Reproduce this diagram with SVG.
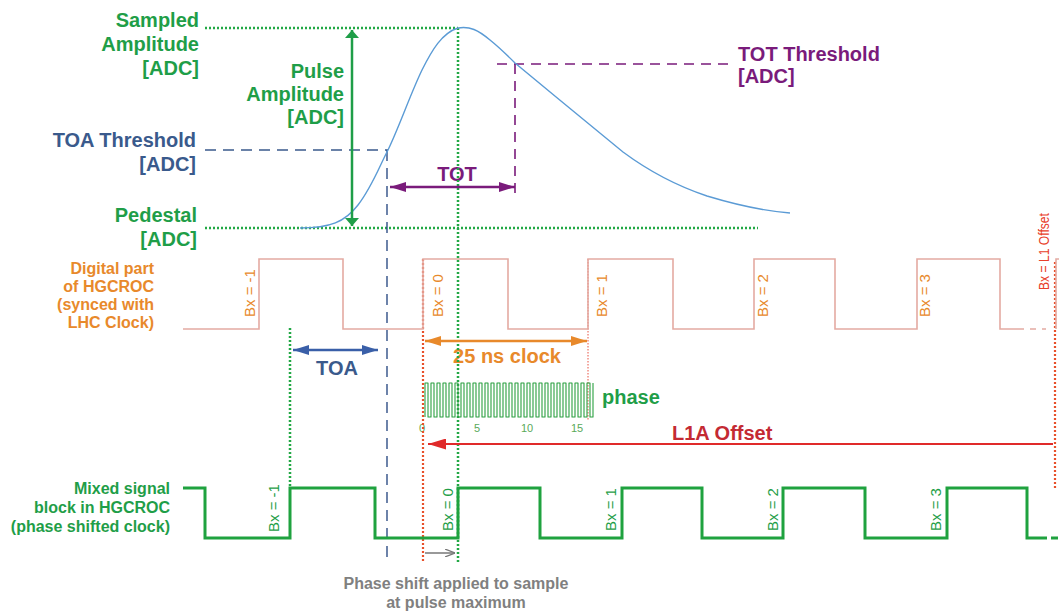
<svg xmlns="http://www.w3.org/2000/svg" width="1059" height="616" viewBox="0 0 1059 616">
<style>
text{font-family:"Liberation Sans",Arial,sans-serif;}
.b{font-weight:bold;}
.g{fill:#1f9e48;}
.bl{fill:#3a5a8c;}
.pu{fill:#7a1b7b;}
.or{fill:#e8892b;}
.rd{fill:#c42a33;}
.gy{fill:#808080;}
.lbl{font-size:20px;font-weight:bold;}
.sm{font-size:16px;font-weight:bold;}
.bx{font-size:15px;}
.dotg{stroke:#22a845;stroke-width:2.5;stroke-dasharray:2 2;fill:none;}
.dotr{stroke:#e8502a;stroke-width:2.2;stroke-dasharray:2 2;fill:none;}
</style>
<defs>
<marker id="ag" viewBox="0 0 10 10" refX="10" refY="5" markerWidth="8" markerHeight="14" markerUnits="userSpaceOnUse" orient="auto-start-reverse" preserveAspectRatio="none"><path d="M0,0 L10,5 L0,10 z" fill="#1f9e48"/></marker>
<marker id="ap" viewBox="0 0 10 10" refX="10" refY="5" markerWidth="16" markerHeight="10" markerUnits="userSpaceOnUse" orient="auto-start-reverse" preserveAspectRatio="none"><path d="M0,0 L10,5 L0,10 z" fill="#7a1b7b"/></marker>
<marker id="ab" viewBox="0 0 10 10" refX="10" refY="5" markerWidth="16" markerHeight="10" markerUnits="userSpaceOnUse" orient="auto-start-reverse" preserveAspectRatio="none"><path d="M0,0 L10,5 L0,10 z" fill="#3a5fa8"/></marker>
<marker id="ao" viewBox="0 0 10 10" refX="10" refY="5" markerWidth="16" markerHeight="10" markerUnits="userSpaceOnUse" orient="auto-start-reverse" preserveAspectRatio="none"><path d="M0,0 L10,5 L0,10 z" fill="#e8892b"/></marker>
<marker id="ar" viewBox="0 0 10 10" refX="10" refY="5" markerWidth="18" markerHeight="11" markerUnits="userSpaceOnUse" orient="auto-start-reverse" preserveAspectRatio="none"><path d="M0,0 L10,5 L0,10 z" fill="#e02a2a"/></marker>
<marker id="ay" viewBox="0 0 10 10" refX="10" refY="5" markerWidth="10" markerHeight="8" markerUnits="userSpaceOnUse" orient="auto-start-reverse" preserveAspectRatio="none"><path d="M0,0 L10,5 L0,10" fill="none" stroke="#777" stroke-width="1.5"/></marker>
</defs>
<rect width="1059" height="616" fill="#ffffff"/>

<g id="labels">
<g id="sampled-amplitude" class="g lbl" text-anchor="end"><text x="199" y="27">Sampled</text><text x="199" y="51">Amplitude</text><text x="199" y="75">[ADC]</text></g>
<g id="pulse-amplitude" class="g lbl" text-anchor="end"><text x="344" y="78">Pulse</text><text x="344" y="101">Amplitude</text><text x="344" y="124">[ADC]</text></g>
<g id="toa-threshold" class="bl lbl" text-anchor="end"><text x="196" y="147">TOA Threshold</text><text x="196" y="171">[ADC]</text></g>
<g id="pedestal" class="g lbl" text-anchor="end"><text x="197" y="222">Pedestal</text><text x="197" y="246">[ADC]</text></g>
<g id="tot-threshold" class="pu lbl"><text x="738" y="61">TOT Threshold</text><text x="738" y="83">[ADC]</text></g>
<g id="digital-label" class="or sm" text-anchor="end"><text x="154" y="274">Digital part</text><text x="154" y="292">of HGCROC</text><text x="154" y="310">(synced with</text><text x="154" y="328">LHC Clock)</text></g>
<g id="mixed-label" class="g sm" text-anchor="end"><text x="170" y="494">Mixed signal</text><text x="170" y="513">block in HGCROC</text><text x="170" y="532">(phase shifted clock)</text></g>
<g id="phase-shift-label" class="gy sm" text-anchor="middle"><text x="456" y="589">Phase shift applied to sample</text><text x="456" y="608">at pulse maximum</text></g>
<text id="tot-label" class="pu lbl" x="457" y="181" text-anchor="middle">TOT</text>
<text id="toa-label" class="bl lbl" x="337" y="375" text-anchor="middle">TOA</text>
<text id="clock-label" class="or lbl" x="507" y="363" text-anchor="middle">25 ns clock</text>
<text id="phase-label" class="g lbl" x="602" y="404">phase</text>
<text id="l1a-label" class="rd lbl" x="672" y="440">L1A Offset</text>
<g id="phase-numbers" font-size="11" fill="#5aaa5a" text-anchor="middle"><text x="422" y="432">0</text><text x="477" y="432">5</text><text x="527" y="432">10</text><text x="577" y="432">15</text></g>
</g>

<g id="connectors">
<path class="dotg" d="M205,28 H458"/>
<path class="dotg" d="M205,228 H758"/>
<path class="dotg" d="M458,28 V562"/>
<path class="dotg" d="M290,328 V488"/>
<path d="M205,150 H388" stroke="#3a5a8c" stroke-width="1.6" stroke-dasharray="11 7" fill="none"/>
<path d="M387,150 V560" stroke="#2f4f86" stroke-width="1.4" stroke-dasharray="11 7" fill="none"/>
<path d="M497,64 H728" stroke="#7a1b7b" stroke-width="1.6" stroke-dasharray="10 7" fill="none"/>
<path d="M515,64 V200" stroke="#7a1b7b" stroke-width="1.6" stroke-dasharray="10 7" fill="none"/>
<path class="dotr" d="M423,259 V563"/>
<path d="M588,259 V420" stroke="#e85040" stroke-width="1" stroke-dasharray="1.5 1.5" fill="none"/>
<path class="dotr" d="M1055,262 V490"/>
<path id="pulse" d="M300,228 C330,228 345,222 358,205 C372,187 380,165 388,150 C400,125 410,95 422,70 C432,50 442,33 458,28 C470,26 478,30 490,40 C500,48 508,56 515,63 C550,92 590,125 623,152 C650,172 680,187 707,196 C740,206 765,211 790,213" fill="none" stroke="#5b9bd5" stroke-width="1.4"/>
<path d="M352,30 V226" stroke="#1f9e48" stroke-width="2.5" marker-start="url(#ag)" marker-end="url(#ag)"/>
<path d="M390,187 H515" stroke="#7a1b7b" stroke-width="2.5" marker-start="url(#ap)" marker-end="url(#ap)"/>
<path d="M293,350 H378" stroke="#3a5fa8" stroke-width="2.5" marker-start="url(#ab)" marker-end="url(#ab)"/>
<path d="M425,341 H587" stroke="#e8892b" stroke-width="2.5" marker-start="url(#ao)" marker-end="url(#ao)"/>
<path d="M1053,444 H428" stroke="#e02a2a" stroke-width="2" marker-end="url(#ar)"/>
<path d="M425,553 H455" stroke="#777" stroke-width="1.5" marker-end="url(#ay)"/>
</g>

<g id="digital-clock">
<path d="M183,329 H259 V259 H343 V329 H423 V259 H508 V329 H588 V259 H673 V329 H754 V259 H835 V329 H917 V259 H1000 V329 H1018" fill="none" stroke="#e4aaa2" stroke-width="1.6"/>
<path d="M1018,329 H1046" fill="none" stroke="#e4aaa2" stroke-width="1.6" stroke-dasharray="6 6"/>
<path d="M1056,329 V259 H1059" fill="none" stroke="#e4aaa2" stroke-width="1.6"/>
<g class="or bx">
<text transform="translate(255,317) rotate(-90)">Bx = -1</text>
<text transform="translate(443,317) rotate(-90)">Bx = 0</text>
<text transform="translate(607,317) rotate(-90)">Bx = 1</text>
<text transform="translate(768,317) rotate(-90)">Bx = 2</text>
<text transform="translate(930,317) rotate(-90)">Bx = 3</text>
</g>
<text transform="translate(1049,290) rotate(-90)" font-size="15" fill="#e8402a" textLength="77" lengthAdjust="spacingAndGlyphs">Bx = L1 Offset</text>
</g>

<g id="phase-wave">
<path d="M425,417 v-34h3v34h3 v-34h3v34h3 v-34h3v34h3 v-34h3v34h3 v-34h3v34h3 v-34h3v34h3 v-34h3v34h3 v-34h3v34h3 v-34h3v34h3 v-34h3v34h3 v-34h3v34h3 v-34h3v34h3 v-34h3v34h3 v-34h3v34h3 v-34h3v34h3 v-34h3v34h3 v-34h3v34h3 v-34h3v34h3 v-34h3v34h3 v-34h3v34h3 v-34h3v34h3 v-34h3v34h3 v-34h3v34h3 v-34h3v34h3 v-34h3v34h3 v-34h3v34h3 v-34h3v34h3 v-34h3v34h3 v-34" fill="none" stroke="#2aa040" stroke-width="1.1" stroke-linejoin="round"/>
</g>

<g id="mixed-clock">
<path d="M183,488 H205 V538 H290 V488 H375 V538 H458 V488 H540 V538 H622 V488 H702 V538 H783 V488 H865 V538 H947 V488 H1027 V538 H1040" fill="none" stroke="#1fa23f" stroke-width="3"/>
<path d="M1040,538 H1059" fill="none" stroke="#1fa23f" stroke-width="3" stroke-dasharray="7 4"/>
<g class="g bx">
<text transform="translate(279,532) rotate(-90)">Bx = -1</text>
<text transform="translate(453,531) rotate(-90)">Bx = 0</text>
<text transform="translate(616,531) rotate(-90)">Bx = 1</text>
<text transform="translate(778,531) rotate(-90)">Bx = 2</text>
<text transform="translate(941,531) rotate(-90)">Bx = 3</text>
</g>
</g>
</svg>
